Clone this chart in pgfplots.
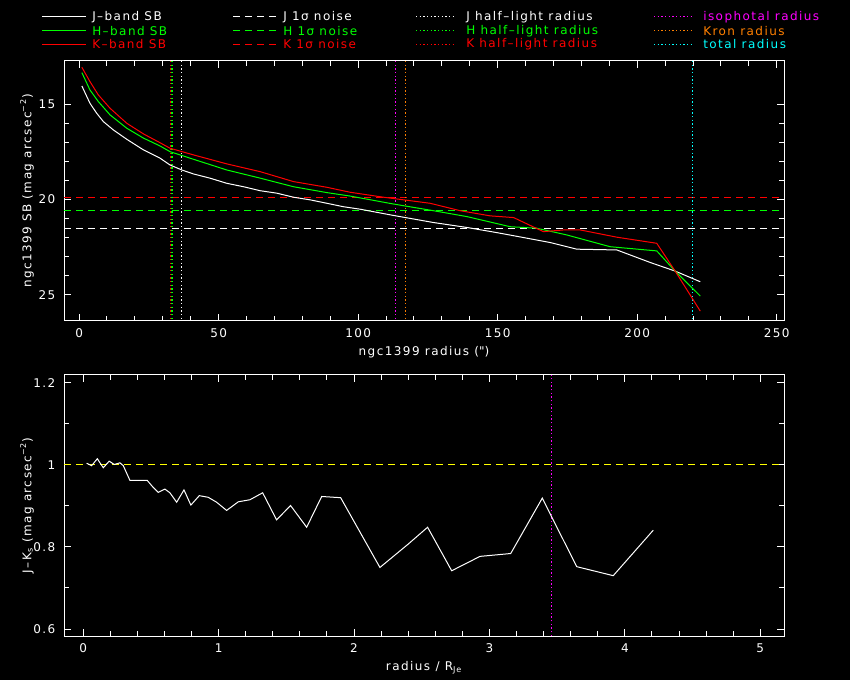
\documentclass[border=0pt]{standalone}
\usepackage{fontspec}
\setmainfont{DejaVu Sans}[LetterSpace=12]
\usepackage{pgfplots}
\pgfplotsset{compat=1.18}
\definecolor{pgred}{RGB}{255,0,0}
\definecolor{pggreen}{RGB}{0,255,0}
\definecolor{pgmag}{RGB}{255,0,255}
\definecolor{pgorange}{RGB}{255,128,0}
\definecolor{pgcyan}{RGB}{0,255,255}
\definecolor{pgyellow}{RGB}{255,255,0}
\newcommand{\lblfont}{\fontsize{9}{10}\selectfont}
\tikzset{
  noise/.style={dash pattern=on 5.25pt off 3.75pt, line width=0.8pt},
  rad/.style={dash pattern=on 1pt off 1.75pt, line width=0.8pt},
}
\pgfplotsset{pgstyle/.style={
  scale only axis, width=540pt,
  axis line style={white, line width=0.75pt},
  tick style={white, line width=0.75pt},
  tick align=inside,
  major tick length=5.25pt, minor tick length=3.4pt,
  ticklabel style={white, font=\lblfont},
  xticklabel style={yshift=-2pt},
  yticklabel style={xshift=-3pt},
  label style={white, font=\lblfont},
  /pgf/number format/assume math mode=true,
  every axis plot/.append style={line width=0.75pt},
  xlabel style={at={(axis description cs:0.5,0)}, anchor=base, yshift=-26pt},
  ylabel style={at={(axis description cs:-0.0514,0.5)}, anchor=center, rotate=0},
}}
\begin{document}
\begin{tikzpicture}
\fill[black] (0,0) rectangle (637.5pt,-510pt);
% ---------- top panel ----------
\begin{axis}[pgstyle, at={(48pt,-45.75pt)}, anchor=north west, height=195pt,
  xmin=-5.4, xmax=252.6, ymin=12.73, ymax=26.38, y dir=reverse,
  xtick={0,50,...,250}, minor x tick num=4,
  ytick={15,20,25}, minor y tick num=4,
  xlabel={ngc1399 radius (\textquotedbl)},
  ylabel={ngc1399 SB (mag arcsec\textsuperscript{−2})}]
% noise levels
\addplot[pgred, noise] coordinates {(-5.4,19.88) (252.6,19.88)};
\addplot[pggreen, noise] coordinates {(-5.4,20.60) (252.6,20.60)};
\addplot[white, noise] coordinates {(-5.4,21.51) (252.6,21.51)};
% radii
\addplot[pgred, rad] coordinates {(32.7,12.73) (32.7,26.38)};
\addplot[pggreen, rad] coordinates {(33.3,12.73) (33.3,26.38)};
\addplot[white, rad] coordinates {(36.7,12.73) (36.7,26.38)};
\addplot[pgmag, rad] coordinates {(113.5,12.73) (113.5,26.38)};
\addplot[pgorange, rad] coordinates {(117.1,12.73) (117.1,26.38)};
\addplot[pgcyan, rad] coordinates {(219.8,12.73) (219.8,26.38)};
% SB profiles
\addplot[white] coordinates {(1.0,14.04)(3.9,14.95)(6.3,15.47)(8.7,15.91)(12.3,16.35)(17.1,16.84)(23.1,17.40)(29.0,17.83)(32.6,18.19)(36.8,18.45)(41.0,18.66)(46.9,18.88)(52.9,19.15)(58.9,19.33)(64.9,19.54)(70.9,19.67)(76.8,19.88)(82.8,20.02)(88.8,20.20)(94.7,20.38)(100.7,20.51)(112.7,20.84)(127.0,21.21)(139.0,21.47)(149.7,21.74)(159.3,22.00)(168.8,22.26)(178.4,22.61)(192.7,22.65)(204.7,23.31)(213.6,23.76)(222.6,24.32)};
\addplot[pggreen] coordinates {(1.0,13.34)(3.9,14.25)(6.9,14.86)(11.1,15.56)(17.1,16.26)(23.1,16.78)(29.0,17.19)(32.6,17.49)(41.0,17.89)(52.9,18.45)(64.9,18.88)(76.8,19.33)(88.8,19.64)(97.1,19.82)(112.7,20.24)(127.0,20.59)(139.0,20.90)(154.5,21.43)(164.0,21.51)(174.7,21.86)(190.3,22.48)(207.0,22.70)(213.6,23.76)(222.6,25.07)};
\addplot[pgred] coordinates {(1.0,13.06)(3.9,13.81)(6.9,14.51)(11.1,15.21)(17.1,16.00)(23.1,16.56)(29.0,17.02)(32.6,17.31)(41.0,17.66)(52.9,18.13)(64.9,18.54)(76.8,19.06)(88.8,19.36)(97.1,19.62)(109.0,19.88)(125.8,20.20)(136.6,20.59)(147.3,20.86)(155.7,20.95)(166.4,21.69)(173.6,21.60)(179.6,21.60)(192.7,21.98)(207.0,22.30)(213.6,23.76)(222.6,25.86)};
\end{axis}
% ---------- bottom panel ----------
\begin{axis}[pgstyle, at={(48pt,-281.25pt)}, anchor=north west, height=195.75pt,
  xmin=-0.142, xmax=5.175, ymin=0.583, ymax=1.219,
  xtick={0,1,...,5}, minor x tick num=4,
  ytick={0.6,0.8,1,1.2}, minor y tick num=1,
  /pgf/number format/fixed,
  xlabel={radius / R\textsubscript{Je}},
  ylabel={J–K\textsubscript{s} (mag arcsec\textsuperscript{−2})}]
\addplot[pgyellow, noise] coordinates {(-0.142,1) (5.175,1)};
\addplot[pgmag, rad] coordinates {(3.455,0.583) (3.455,1.219)};
\addplot[white] coordinates {(0.025,1.004)(0.062,0.998)(0.104,1.015)(0.148,0.993)(0.192,1.009)(0.229,1.001)(0.271,1.005)(0.296,0.998)(0.345,0.962)(0.473,0.962)(0.517,0.945)(0.554,0.933)(0.603,0.941)(0.640,0.932)(0.690,0.909)(0.744,0.939)(0.795,0.902)(0.857,0.925)(0.923,0.921)(0.985,0.909)(1.059,0.889)(1.145,0.910)(1.231,0.915)(1.325,0.932)(1.428,0.866)(1.531,0.901)(1.650,0.848)(1.761,0.923)(1.901,0.920)(2.191,0.750)(2.400,0.807)(2.543,0.848)(2.721,0.742)(2.930,0.777)(3.157,0.784)(3.390,0.919)(3.644,0.752)(3.914,0.730)(4.210,0.841)};
\end{axis}
% ---------- legend ----------
\begin{scope}[x=0.75pt, y=-0.75pt, font=\lblfont]
\draw[white, line width=0.75pt] (42,16.7) -- (86,16.7);
\draw[pggreen, line width=0.75pt] (42,30.7) -- (86,30.7);
\draw[pgred, line width=0.75pt] (42,44.3) -- (86,44.3);
\node[anchor=west, inner sep=0, white] at (92,16.7) {J–band SB};
\node[anchor=west, inner sep=0, pggreen] at (92,30.7) {H–band SB};
\node[anchor=west, inner sep=0, pgred] at (92,44.3) {K–band SB};
\draw[white, noise] (233,16.7) -- (277,16.7);
\draw[pggreen, noise] (233,30.7) -- (277,30.7);
\draw[pgred, noise] (233,44.3) -- (277,44.3);
\node[anchor=west, inner sep=0, white] at (283,16.7) {J 1σ noise};
\node[anchor=west, inner sep=0, pggreen] at (283,30.7) {H 1σ noise};
\node[anchor=west, inner sep=0, pgred] at (283,44.3) {K 1σ noise};
\draw[white, rad] (416,16.7) -- (456,16.7);
\draw[pggreen, rad] (416,30.7) -- (456,30.7);
\draw[pgred, rad] (416,44.3) -- (456,44.3);
\node[anchor=west, inner sep=0, white] at (466,16.7) {J half–light radius};
\node[anchor=west, inner sep=0, pggreen] at (466,30.7) {H half–light radius};
\node[anchor=west, inner sep=0, pgred] at (466,44.3) {K half–light radius};
\draw[pgmag, rad] (654,16.7) -- (694,16.7);
\draw[pgorange, rad] (654,30.7) -- (694,30.7);
\draw[pgcyan, rad] (654,44.3) -- (694,44.3);
\node[anchor=west, inner sep=0, pgmag] at (703,16.7) {isophotal radius};
\node[anchor=west, inner sep=0, pgorange] at (703,30.7) {Kron radius};
\node[anchor=west, inner sep=0, pgcyan] at (703,44.3) {total radius};
\end{scope}
\pgfresetboundingbox
\path (0,0) rectangle (637.5pt,-510pt);
\end{tikzpicture}
\end{document}
